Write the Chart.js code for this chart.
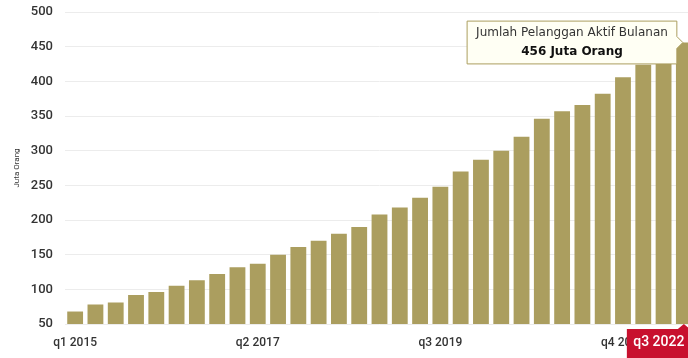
<!DOCTYPE html>
<html>
<head>
<meta charset="utf-8">
<script src="https://cdn.jsdelivr.net/npm/chart.js@4"></script>
<style>
  html, body { margin: 0; padding: 0; background: #ffffff; overflow: hidden; }
  #wrap { position: relative; width: 694px; height: 358px; }
</style>
</head>
<body>
<div id="wrap"><canvas id="subsChart"></canvas></div>
<script>
const quarters = [
  "q1 2015", "q2 2015", "q3 2015", "q4 2015",
  "q1 2016", "q2 2016", "q3 2016", "q4 2016",
  "q1 2017", "q2 2017", "q3 2017", "q4 2017",
  "q1 2018", "q2 2018", "q3 2018", "q4 2018",
  "q1 2019", "q2 2019", "q3 2019", "q4 2019",
  "q1 2020", "q2 2020", "q3 2020", "q4 2020",
  "q1 2021", "q2 2021", "q3 2021", "q4 2021",
  "q1 2022", "q2 2022", "q3 2022",
];
const subscribers = [
  68, 78, 81, 92, 96, 105, 113, 122, 132,
  137, 150, 161, 170, 180, 190, 208, 218, 232, 248, 270,
  287, 300, 320, 346, 357, 366, 382, 406, 424, 432, 456,
];
const yMin = 50;
const yMax = 500;
const yStep = 50;
const tickEvery = 9;
const tooltipTitle = "Jumlah Pelanggan Aktif Bulanan";
const unit = "Juta Orang";

const lastIndex = quarters.length - 1;

const ctx = document.getElementById("subsChart").getContext("2d");

const subsChart = new Chart(ctx, {
  type: "bar",
  data: {
    labels: quarters,
    datasets: [
      {
        label: tooltipTitle,
        data: subscribers,
        backgroundColor: "#ab9e5f",
        hoverBackgroundColor: "#ab9e5f",
        borderWidth: 0,
        categoryPercentage: 1,
        barPercentage: 0.78,
      },
    ],
  },
  options: {
    responsive: true,
    maintainAspectRatio: false,
    animation: false,
    events: [],
    layout: { padding: { top: 12, right: 0, left: 0, bottom: 0 } },
    scales: {
      x: {
        grid: { display: false, drawTicks: false },
        border: { display: false },
        ticks: {
          autoSkip: false,
          maxRotation: 0,
          padding: 12,
          color: "#333333",
          font: { family: "Roboto", size: 12, weight: "500" },
          callback: function (value, index) {
            return index % tickEvery === 0 ? quarters[index] : "";
          },
        },
        afterFit: function (scale) {
          scale.height = 34;
          scale.paddingLeft = 0;
          scale.paddingRight = 0;
        },
      },
      y: {
        min: yMin,
        max: yMax,
        grid: { color: "#ececec", drawTicks: false },
        border: { display: false },
        ticks: {
          stepSize: yStep,
          padding: 12,
          color: "#333333",
          font: { family: "Roboto", size: 13, weight: "500" },
        },
        title: {
          display: true,
          text: unit,
          color: "#333333",
          font: { family: "Roboto", size: 8 },
          padding: { top: 12, bottom: 0 },
        },
        afterFit: function (scale) {
          scale.width = 65;
          scale.paddingTop = 0;
          scale.paddingBottom = 0;
        },
      },
    },
    plugins: {
      legend: { display: false },
      tooltip: {
        enabled: true,
        xAlign: "right",
        yAlign: "center",
        backgroundColor: "#fffff4",
        borderColor: "#ab9e5f",
        borderWidth: 1,
        cornerRadius: 0,
        caretSize: 6,
        caretPadding: 1,
        displayColors: false,
        titleAlign: "center",
        bodyAlign: "center",
        titleColor: "#333333",
        bodyColor: "#111111",
        titleFont: { family: "DejaVu Sans", size: 12, weight: "normal" },
        bodyFont: { family: "DejaVu Sans", size: 12, weight: "bold" },
        titleMarginBottom: 4,
        padding: { x: 9, y: 5 },
        callbacks: {
          title: function () {
            return tooltipTitle;
          },
          label: function (item) {
            return item.raw + " " + unit;
          },
        },
      },
    },
  },
  plugins: [
    {
      id: "activeLabel",
      afterDraw: function (chart) {
        const c = chart.ctx;
        const xScale = chart.scales.x;
        const barX = xScale.getPixelForValue(lastIndex);
        const base = chart.chartArea.bottom;
        const top = base + 5;
        const right = barX + 7;
        const w = 64;
        const left = right - w;
        c.save();
        c.fillStyle = "#c8102e";
        c.fillRect(left, top, w, 40);
        c.beginPath();
        c.moveTo(barX - 6, top);
        c.lineTo(barX, base);
        c.lineTo(barX + 6, top);
        c.closePath();
        c.fill();
        c.fillStyle = "#ffffff";
        c.font = "500 14px Roboto";
        c.textAlign = "center";
        c.textBaseline = "middle";
        c.fillText(quarters[lastIndex], left + w / 2, top + 13);
        c.restore();
      },
    },
  ],
});

subsChart.tooltip.setActiveElements([{ datasetIndex: 0, index: lastIndex }], { x: 0, y: 0 });
subsChart.update();
</script>
</body>
</html>
